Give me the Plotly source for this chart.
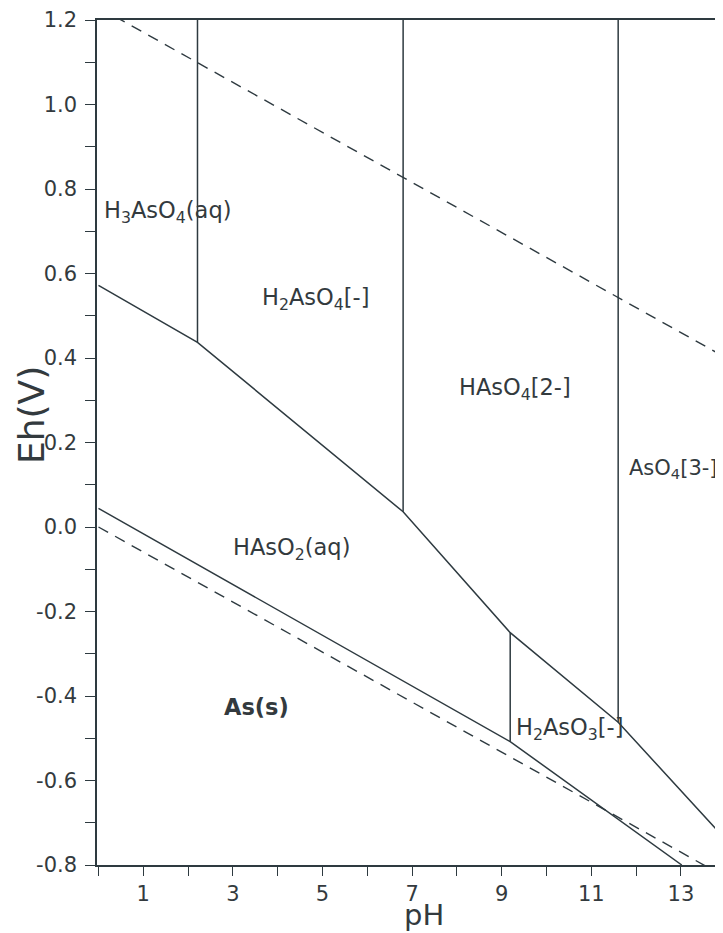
import plotly.graph_objects as go

# --- data ---
# upper boundary (As(V)/As(III))
ph_upper = [0.0, 2.21, 6.80, 9.19, 11.60, 14.0]
eh_upper = [0.572, 0.437, 0.036, -0.250, -0.462, -0.740]
# As(s)/As(III) boundary
ph_as = [0.0, 9.19, 13.02]
eh_as = [0.044, -0.508, -0.800]
# vertical acid-base boundaries: pH, Eh top, Eh bottom
ph_vert = [2.21, 6.80, 11.60, 9.19]
eh_vert_top = [1.2, 1.2, 1.2, -0.250]
eh_vert_bot = [0.437, 0.036, -0.462, -0.508]
# water stability lines
ph_water = [0.0, 14.0]
eh_water_o2 = [1.23, 0.401]
eh_water_h2 = [0.0, -0.829]

# species labels
label_text = ["H<sub>3</sub>AsO<sub>4</sub>(aq)", "H<sub>2</sub>AsO<sub>4</sub>[-]",
              "HAsO<sub>4</sub>[2-]", "AsO<sub>4</sub>[3-]", "HAsO<sub>2</sub>(aq)",
              "<b>As(s)</b>", "H<sub>2</sub>AsO<sub>3</sub>[-]"]
label_ph = [0.08, 3.6, 8.0, 11.79, 2.95, 2.75, 9.27]
label_eh = [0.745, 0.54, 0.327, 0.137, -0.052, -0.425, -0.478]
label_size = [22.5, 22.5, 22.5, 21, 22.5, 22.5, 22.5]

x_ticks = [1, 3, 5, 7, 9, 11, 13]
x_minor = [0, 2, 4, 6, 8, 10, 12, 14]
y_ticks = [-0.8, -0.6, -0.4, -0.2, 0.0, 0.2, 0.4, 0.6, 0.8, 1.0, 1.2]
y_ticktext = ["-0.8", "-0.6", "-0.4", "-0.2", "0.0", "0.2", "0.4", "0.6", "0.8", "1.0", "1.2"]

LINE = "#2e3a40"
TXT = "#333a3e"
FONT = "DejaVu Sans"

fig = go.Figure()

dash = "11px,8px"
fig.add_trace(go.Scatter(x=ph_water, y=eh_water_o2, mode="lines",
                         line=dict(color=LINE, width=1.4, dash=dash), hoverinfo="skip"))
fig.add_trace(go.Scatter(x=ph_water, y=eh_water_h2, mode="lines",
                         line=dict(color=LINE, width=1.4, dash=dash), hoverinfo="skip"))
fig.add_trace(go.Scatter(x=ph_upper, y=eh_upper, mode="lines",
                         line=dict(color=LINE, width=1.5), hoverinfo="skip"))
fig.add_trace(go.Scatter(x=ph_as, y=eh_as, mode="lines",
                         line=dict(color=LINE, width=1.5), hoverinfo="skip"))
for p, t, b in zip(ph_vert, eh_vert_top, eh_vert_bot):
    fig.add_trace(go.Scatter(x=[p, p], y=[t, b], mode="lines",
                             line=dict(color=LINE, width=1.5), hoverinfo="skip"))

for txt, p, e, s in zip(label_text, label_ph, label_eh, label_size):
    fig.add_annotation(x=p, y=e, xref="x", yref="y", text=txt, showarrow=False,
                       xanchor="left", yanchor="middle",
                       font=dict(family=FONT, size=s, color=TXT))

# axis titles
fig.add_annotation(x=0, y=0.265, xref="paper", yref="y", text="Eh(V)", showarrow=False,
                   xshift=-66, textangle=-90, xanchor="center", yanchor="middle",
                   font=dict(family=FONT, size=36, color=TXT))
fig.add_annotation(x=7.27, y=0, xref="x", yref="paper", text="pH", showarrow=False,
                   yshift=-50, xanchor="center", yanchor="middle",
                   font=dict(family=FONT, size=29, color=TXT))

fig.update_layout(
    width=715, height=925,
    margin=dict(l=89, r=0, t=12, b=68),
    paper_bgcolor="white", plot_bgcolor="white",
    showlegend=False,
    xaxis=dict(range=[-0.033, 13.94], tickvals=x_ticks, ticks="outside", ticklen=9,
               tickcolor=LINE, tickwidth=1.3, showline=True, linecolor=LINE, linewidth=1.5,
               mirror=True, showgrid=False, zeroline=False,
               tickfont=dict(family=FONT, size=21, color=TXT),
               minor=dict(tickvals=x_minor, ticks="outside", ticklen=9,
                          tickcolor=LINE, tickwidth=1.3, showgrid=False)),
    yaxis=dict(range=[-0.8, 1.2], tickvals=y_ticks, ticktext=y_ticktext, ticks="outside",
               ticklen=10, tickcolor=LINE, tickwidth=1.3, showline=True, linecolor=LINE,
               linewidth=1.5, mirror=False, showgrid=False, zeroline=False,
               ticklabelstandoff=4, ticklabeloverflow="allow",
               tickfont=dict(family=FONT, size=21, color=TXT),
               minor=dict(dtick=0.1, ticks="outside", ticklen=10, tickcolor=LINE,
                          tickwidth=1.3, showgrid=False)),
)

fig.write_html("out.html")
